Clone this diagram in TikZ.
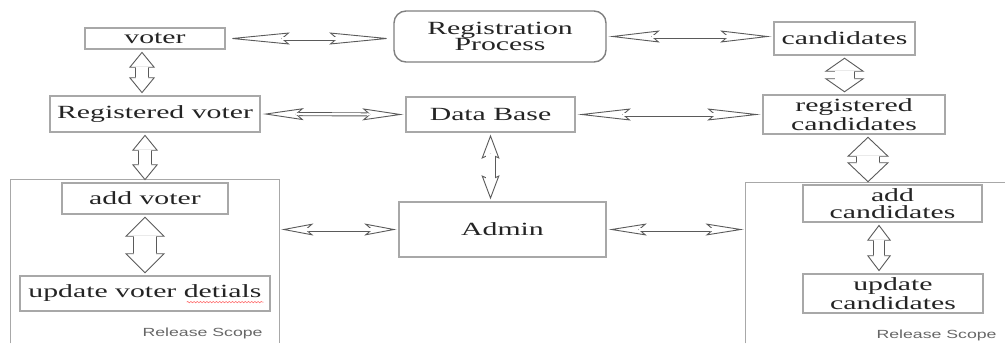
\documentclass[tikz,border=0pt]{standalone}
\usepackage{fontspec}
\setmainfont[FakeStretch=1.6]{Liberation Serif}
\newfontfamily\scopefont[FakeStretch=1.5]{Liberation Sans}
\usetikzlibrary{arrows.meta, positioning, calc, decorations.pathmorphing}
\definecolor{boxgray}{HTML}{A8A8A8}
\definecolor{arrgray}{HTML}{5A5A5A}
\definecolor{txtgray}{HTML}{242424}

\begin{document}
\begin{tikzpicture}[x=0.5pt, y=-0.5pt,
    box/.style={rectangle, draw=boxgray, line width=0.7pt, align=center, text=txtgray, inner sep=0pt, font=\fontsize{9.3}{8.4}\selectfont},
    proc/.style={box, draw=gray, rounded corners=6pt},
    frame/.style={rectangle, inner sep=0pt},
    scopeline/.style={draw=boxgray, line width=0.6pt},
    tag/.style={font=\scopefont\fontsize{5.9}{6}\selectfont, text=gray!80!black, inner sep=0pt, anchor=east},
    typo/.style={draw=red!55, line width=0.3pt, decorate, decoration={snake, amplitude=0.35pt, segment length=1.6pt}},
    dbl/.style n args={4}{draw=arrgray, line width=0.45pt, shorten <=1pt, shorten >=1pt,
      {Stealth[fill=white, width=#1, length=#2, inset=#3]}-{Stealth[fill=white, width=#1, length=#2, inset=#3]},
      postaction={draw=arrgray, -, line width=#4, shorten <={1pt+#2-#3*(1-#4/#1)}, shorten >={1pt+#2-#3*(1-#4/#1)}},
      postaction={draw=white, -, line width=#4-0.9pt, shorten <={1pt+#2-#3-0.6pt}, shorten >={1pt+#2-#3-0.6pt}}},
    harr/.style={dbl={6pt}{#1}{3.5pt}{2pt}}]
\useasboundingbox (0,0) rectangle (1005,343);
\node[box, minimum width=70pt, minimum height=10.5pt] (voter) at (155,38.5) {voter};
\node[proc, minimum width=106pt, minimum height=25.5pt] (regproc) at (500,36.5) {Registration\\Process};
\node[box, minimum width=70.5pt, minimum height=16.5pt] (cand) at (844.5,38.5) {candidates};
\node[box, minimum width=105pt, minimum height=18pt] (regvoter) at (155,114) {Registered voter};
\node[box, minimum width=84.5pt, minimum height=17.5pt] (db) at (490.5,114.5) {Data Base};
\node[box, minimum width=91pt, minimum height=19.5pt] (regcand) at (854,114.5) {registered\\candidates};
\node[frame, minimum width=134pt, minimum height=81.5pt] (lscope) at (145,261.5) {};
\node[box, minimum width=83pt, minimum height=15.5pt] (addvoter) at (145,198.5) {add voter};
\node[box, minimum width=125pt, minimum height=17.5pt] (updvoter) at (145,293.5) {update voter detials};
\node[box, minimum width=103.5pt, minimum height=27.5pt] (admin) at (502.5,229.5) {Admin};
\node[frame, minimum width=129.5pt, minimum height=80pt] (rscope) at (875.5,263) {};
\node[box, minimum width=89.5pt, minimum height=18.5pt] (addcand) at (892.5,203.5) {add\\candidates};
\node[box, minimum width=90pt, minimum height=19.5pt] (updcand) at (893,293.5) {update\\candidates};
\node[tag] (lrel) at (263,333) {Release Scope};
\node[tag] (rrel) at (997,335) {Release Scope};
\draw[scopeline] (lscope.south west) -- (lscope.north west) -- (lscope.north east) -- (lscope.south east);
\draw[scopeline] (rscope.south west) -- (rscope.north west) -- (rscope.north east);
\draw[typo] ([xshift=-42pt, yshift=4.8pt]updvoter.south east) -- ([xshift=-3.5pt, yshift=4.8pt]updvoter.south east);
\draw[harr=31pt] (voter.east) -- (regproc.west |- voter.east);
\draw[harr=25.5pt] (regproc.east) -- (cand.west |- regproc.east);
\draw[harr=20.5pt] (regvoter.east) -- (db.west);
\draw[harr=26.5pt] (db.east) -- (regcand.west);
\draw[harr=16pt] (admin.west -| lscope.east) -- (admin.west);
\draw[harr=19pt] (admin.east) -- (admin.east -| rscope.west);
\draw[dbl={13pt}{8pt}{0pt}{7pt}] ([xshift=-6.5pt]voter.south) -- ([xshift=-6.5pt]voter.south |- regvoter.north);
\draw[dbl={13pt}{8pt}{0pt}{7pt}] (regvoter.south -| addvoter.north) -- (addvoter.north);
\draw[dbl={20pt}{10pt}{0pt}{12pt}] (addvoter) -- (updvoter);
\draw[dbl={9pt}{12pt}{2pt}{5pt}] (db.south) -- (db.south |- admin.north);
\draw[dbl={20pt}{7pt}{0pt}{10pt}] (cand.south) -- (cand.south |- regcand.north);
\draw[dbl={21pt}{10pt}{0pt}{12pt}] ([xshift=7pt]regcand.south) -- ([xshift=7pt]regcand.south |- addcand.north);
\draw[dbl={12pt}{8pt}{0pt}{6pt}] ([xshift=-6.75pt]addcand.south) -- ([xshift=-6.75pt]addcand.south |- updcand.north);
\end{tikzpicture}
\end{document}
